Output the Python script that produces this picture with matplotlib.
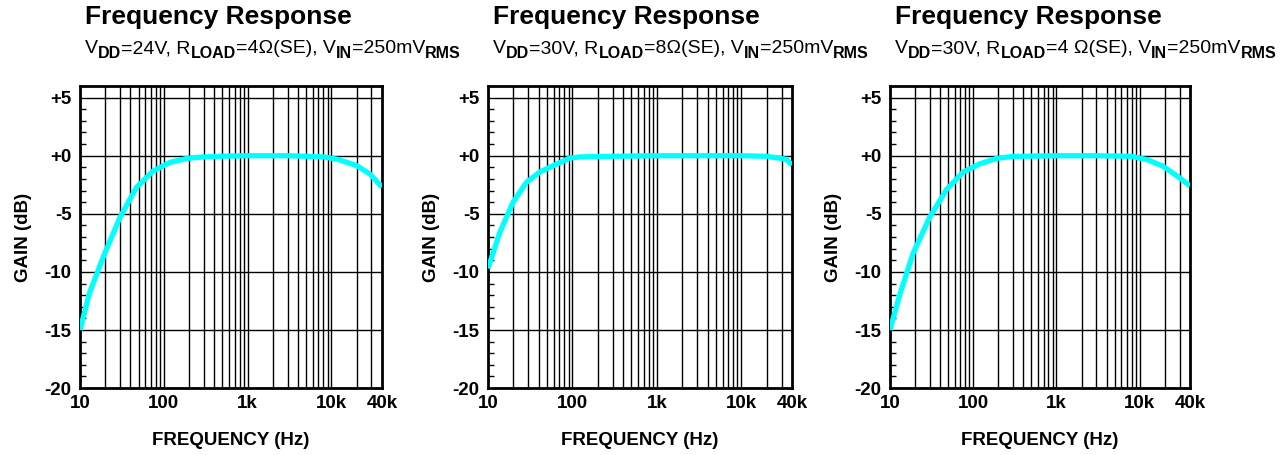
import numpy as np
import matplotlib.pyplot as plt
from matplotlib.ticker import FixedLocator, NullFormatter, LogLocator

plt.rcParams['font.family'] = ['Liberation Sans', 'DejaVu Sans']

# panel data
freq1 = [10, 13, 19, 30, 47.5, 75, 119, 189, 298, 600, 1000, 3000, 8100, 11700, 20000, 29000, 40000]
gain1 = [-15, -11.8, -8.7, -5.3, -2.7, -1.3, -0.57, -0.23, -0.1, -0.03, 0, 0, -0.1, -0.3, -0.85, -1.6, -2.7]

freq2 = [10, 13.8, 19.8, 28.5, 41, 59, 93, 123, 300, 1000, 5000, 10000, 20000, 34000, 40000]
gain2 = [-9.7, -6.6, -4.0, -2.3, -1.4, -0.86, -0.2, -0.1, -0.05, 0, 0, 0, -0.05, -0.3, -0.8]

freq3 = [10, 13.2, 19, 30, 48, 76, 120, 190, 300, 1000, 3000, 7900, 12400, 19000, 30000, 40000]
gain3 = [-15, -11.9, -8.4, -5.3, -2.9, -1.4, -0.7, -0.23, -0.06, 0, 0, -0.05, -0.35, -0.9, -1.9, -2.6]

# subtitle runs: (text, is_subscript)
subtitles = [
    [('V', 0), ('DD', 1), ('=24V, R', 0), ('LOAD', 1), ('=4Ω(SE), V', 0), ('IN', 1), ('=250mV', 0), ('RMS', 1)],
    [('V', 0), ('DD', 1), ('=30V, R', 0), ('LOAD', 1), ('=8Ω(SE), V', 0), ('IN', 1), ('=250mV', 0), ('RMS', 1)],
    [('V', 0), ('DD', 1), ('=30V, R', 0), ('LOAD', 1), ('=4 Ω(SE), V', 0), ('IN', 1), ('=250mV', 0), ('RMS', 1)],
]
xticks = [10, 100, 1000, 10000, 40000]
xticklabels = ['10', '100', '1k', '10k', '40k']
yticks = [5, 0, -5, -10, -15, -20]
yticklabels = ['+5', '+0', '-5', '-10', '-15', '-20']

fig = plt.figure(figsize=(12.86, 4.55), dpi=100)
lefts = [0.0622, 0.3795, 0.692]
widths = [0.2348, 0.2364, 0.2333]
data = [(freq1, gain1), (freq2, gain2), (freq3, gain3)]

for i in range(3):
    ax = fig.add_axes([lefts[i], 0.147, widths[i], 0.664])
    f, g = data[i]
    ax.set_xscale('log')
    ax.set_xlim(10, 40000)
    ax.set_ylim(-20, 6)

    # grid: every log line, every 5 dB
    for v in LogLocator(base=10, subs=np.arange(1, 10)).tick_values(10, 40000):
        if 10 < v < 40000:
            ax.axvline(v, color='black', lw=1.0, zorder=1)
    for y in yticks:
        ax.axhline(y, color='black', lw=1.0, zorder=1)

    ax.plot(f, g, color='#00ffff', lw=3.8, solid_capstyle='butt', zorder=3)

    ax.xaxis.set_major_locator(FixedLocator(xticks))
    ax.set_xticklabels(xticklabels)
    ax.xaxis.set_minor_formatter(NullFormatter())
    ax.tick_params(axis='x', which='both', length=0, pad=5, labelsize=13.5)
    ax.set_yticks(yticks)
    ax.set_yticklabels(yticklabels)
    ax.yaxis.set_minor_locator(FixedLocator(np.arange(-20, 6, 1)))
    ax.tick_params(axis='y', which='major', length=0, pad=6, labelsize=13.5)
    ax.tick_params(axis='y', which='minor', direction='in', length=4, width=1)
    for lab in ax.get_xticklabels() + ax.get_yticklabels():
        lab.set_fontweight('bold')
    for s in ax.spines.values():
        s.set_linewidth(2)

    ax.set_xlabel('FREQUENCY (Hz)', fontsize=13.5, fontweight='bold', labelpad=14)
    ax.set_ylabel('GAIN (dB)', fontsize=13.5, fontweight='bold', labelpad=9)

    x0 = lefts[i] * 1286 + 5
    fig.text(x0 / 1286, 1 - 17 / 455, 'Frequency Response', fontsize=19,
             fontweight='bold', va='center', ha='left')

    # subtitle with larger bold subscripts, chained piece by piece
    runs = subtitles[i]
    prev = fig.text(x0 / 1286, 1 - 53 / 455, runs[0][0], fontsize=14,
                    va='baseline', ha='left')
    prev_sub = runs[0][1]
    for s, sub in runs[1:]:
        dy = 0
        if sub and not prev_sub:
            dy = -2.8
        elif prev_sub and not sub:
            dy = 2.8
        prev = ax.annotate(s, xy=(1, 0), xycoords=prev, xytext=(0, dy),
                           textcoords='offset points',
                           fontsize=11.5 if sub else 14,
                           fontweight='bold' if sub else 'normal',
                           va='bottom', ha='left', annotation_clip=False)
        prev_sub = sub

plt.savefig('out.png', dpi=100)
